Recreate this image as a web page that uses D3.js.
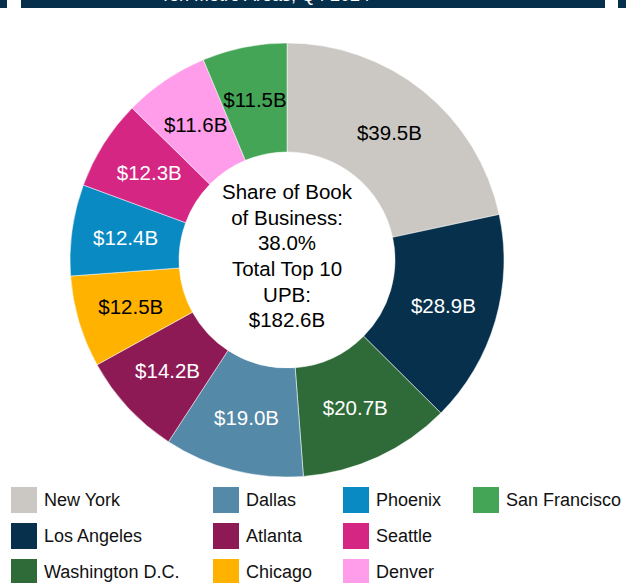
<!DOCTYPE html>
<html>
<head>
<meta charset="utf-8">
<script src="https://cdn.jsdelivr.net/npm/d3@7"></script>
<style>
  html, body { margin: 0; padding: 0; background: #fff; }
  svg { display: block; font-family: "Liberation Sans", Arial, sans-serif; }
</style>
</head>
<body>
<svg id="chart" width="626" height="583"></svg>
<script>
// Top 10 metro areas by unpaid principal balance ($B)
const cities = ["New York", "Los Angeles", "Washington D.C.", "Dallas", "Atlanta",
                "Chicago", "Phoenix", "Seattle", "Denver", "San Francisco"];
const upb = [39.5, 28.9, 20.7, 19.0, 14.2, 12.5, 12.4, 12.3, 11.6, 11.5];
const colors = ["#cbc8c3", "#06304c", "#2e6b38", "#5589a8", "#8e1a55",
                "#ffb300", "#0a8ac2", "#d42682", "#ff9deb", "#43a555"];
const labelInk = ["#000", "#fff", "#fff", "#fff", "#fff",
                  "#000", "#fff", "#fff", "#000", "#000"];
const centerLines = ["Share of Book", "of Business:", "38.0%", "Total Top 10", "UPB:", "$182.6B"];
const legendColumns = [
  ["New York", "Los Angeles", "Washington D.C."],
  ["Dallas", "Atlanta", "Chicago"],
  ["Phoenix", "Seattle", "Denver"],
  ["San Francisco"]
];

const svg = d3.select("#chart");

// header band, scrolled almost out of view
const band = svg.append("g");
band.append("rect").attr("x", 0).attr("y", 0).attr("width", 7).attr("height", 8).attr("fill", "#062f4b");
band.append("rect").attr("x", 21).attr("y", 0).attr("width", 584).attr("height", 8).attr("fill", "#062f4b");
band.append("rect").attr("x", 618).attr("y", 0).attr("width", 8).attr("height", 8).attr("fill", "#062f4b");
band.append("text").attr("x", 160).attr("y", 1).attr("fill", "#fff")
  .attr("font-size", 18).text("Ten Metro Areas, Q4 2024");

const cx = 287, cy = 260, outerR = 217, innerR = 108, labelR = 163;

const pie = d3.pie().value(d => d.v).sort(null);
const data = cities.map((c, i) => ({ city: c, v: upb[i], color: colors[i], ink: labelInk[i] }));
const arcs = pie(data);

const arc = d3.arc().innerRadius(innerR).outerRadius(outerR);
const labelArc = d3.arc().innerRadius(labelR).outerRadius(labelR);

const g = svg.append("g").attr("transform", `translate(${cx},${cy})`);

g.selectAll("path.slice").data(arcs).join("path")
  .attr("class", "slice")
  .attr("d", arc)
  .attr("fill", d => d.data.color)
  .attr("stroke", "#fff")
  .attr("stroke-width", 0.5);

g.selectAll("text.val").data(arcs).join("text")
  .attr("class", "val")
  .attr("transform", d => `translate(${labelArc.centroid(d)})`)
  .attr("text-anchor", "middle")
  .attr("dy", "0.35em")
  .attr("font-size", 20.5)
  .attr("fill", d => d.data.ink)
  .text(d => `$${d3.format(".1f")(d.data.v)}B`);

// centre summary
const lineH = 25.6;
g.selectAll("text.center").data(centerLines).join("text")
  .attr("class", "center")
  .attr("x", 0)
  .attr("y", (d, i) => (i - (centerLines.length - 1) / 2) * lineH - 4)
  .attr("dy", "0.35em")
  .attr("text-anchor", "middle")
  .attr("font-size", 20.5)
  .attr("fill", "#000")
  .text(d => d);

// legend
const colX = [11, 213, 343, 473], rowY = [487, 523, 559];
const colorOf = new Map(cities.map((c, i) => [c, colors[i]]));
const legend = svg.append("g");
legendColumns.forEach((col, ci) => {
  col.forEach((name, ri) => {
    const item = legend.append("g").attr("transform", `translate(${colX[ci]},${rowY[ri]})`);
    item.append("rect").attr("width", 26).attr("height", 26).attr("fill", colorOf.get(name));
    item.append("text").attr("x", 33).attr("y", 13).attr("dy", "0.35em")
      .attr("font-size", 18).attr("fill", "#111").text(name);
  });
});
</script>
</body>
</html>
